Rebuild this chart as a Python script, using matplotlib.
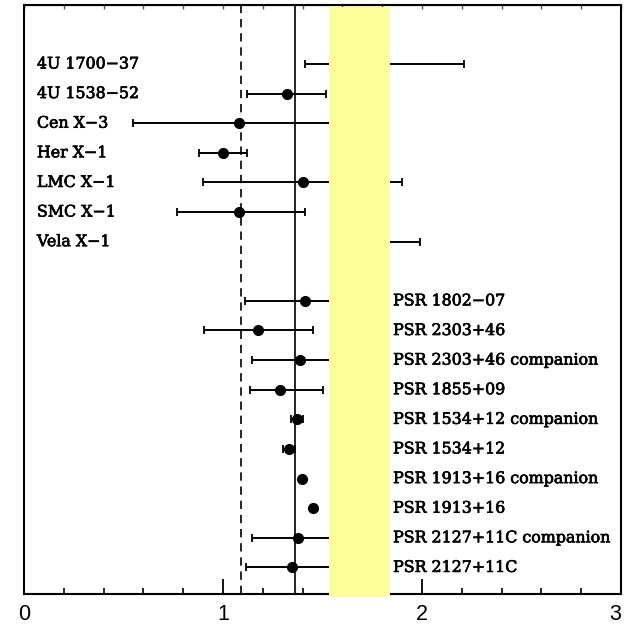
import matplotlib
matplotlib.use('Agg')
import matplotlib.pyplot as plt
from matplotlib.patches import Rectangle
import matplotlib.patheffects as pe
import numpy as np

# X-ray binaries (top block)
xrb_names = ["4U 1700\u221237", "4U 1538\u221252", "Cen X\u22123", "Her X\u22121",
             "LMC X\u22121", "SMC X\u22121", "Vela X\u22121"]
xrb_mass = [1.81, 1.32, 1.08, 1.00, 1.40, 1.08, 1.78]
xrb_err_lo = [0.40, 0.20, 0.53, 0.12, 0.50, 0.31, 0.21]
xrb_err_hi = [0.40, 0.20, 0.53, 0.12, 0.50, 0.33, 0.21]

# radio pulsars (bottom block)
psr_names = ["PSR 1802\u221207", "PSR 2303+46", "PSR 2303+46 companion", "PSR 1855+09",
             "PSR 1534+12 companion", "PSR 1534+12", "PSR 1913+16 companion",
             "PSR 1913+16", "PSR 2127+11C companion", "PSR 2127+11C"]
psr_mass = [1.41, 1.175, 1.385, 1.285, 1.37, 1.33, 1.395, 1.45, 1.375, 1.347]
psr_err_lo = [0.30, 0.27, 0.24, 0.15, 0.03, 0.03, 0.0, 0.0, 0.23, 0.23]
psr_err_hi = [0.30, 0.28, 0.24, 0.22, 0.03, 0.03, 0.0, 0.0, 0.23, 0.23]

dashed_x = 1.09
solid_x = 1.36
mask_x = (1.533, 1.839)   # yellow block covering part of the chart

fig = plt.figure(figsize=(6.24, 6.26), dpi=100)
ax = fig.add_axes([0.0385, 0.051, 0.9565, 0.941])

xrb_rows = np.arange(len(xrb_names))
psr_rows = np.arange(len(psr_names)) + len(xrb_names) + 1

ax.axvline(dashed_x, color='k', lw=1.2, ls=(0, (5, 3.5)), zorder=1)
ax.axvline(solid_x, color='k', lw=1.2, zorder=1)

eb_style = dict(fmt='o', color='k', ms=7, elinewidth=1.4, capsize=3, capthick=1.3, zorder=3)
ax.errorbar(xrb_mass, xrb_rows, xerr=[xrb_err_lo, xrb_err_hi], **eb_style)
ax.errorbar(psr_mass, psr_rows, xerr=[psr_err_lo, psr_err_hi], **eb_style)

# slightly heavier strokes, like the original typeset labels
bold_ish = [pe.withStroke(linewidth=0.5, foreground='k')]
for name, r in zip(xrb_names, xrb_rows):
    ax.text(0.065, r, name, family='DejaVu Serif', fontsize=11.4, va='center', ha='left',
            path_effects=bold_ish)
for name, r in zip(psr_names, psr_rows):
    ax.text(1.855, r, name, family='DejaVu Serif', fontsize=11.4, va='center', ha='left',
            path_effects=bold_ish)

ax.set_xlim(0, 3)
ax.set_ylim(17.9, -1.99)
ax.set_yticks([])
ax.set_xticks([0, 1, 2, 3])
ax.set_xticks(np.arange(0, 3.01, 0.2), minor=True)
ax.tick_params(axis='x', which='major', direction='in', length=11, width=1.3, pad=7,
               labelsize=15.5)
ax.tick_params(axis='x', which='minor', direction='in', length=4.5, width=1.2)
xlabels = ax.get_xticklabels()
for lbl in xlabels:
    lbl.set_family('Liberation Sans')
# the last label sits against the picture edge, as in the scan
xlabels[-1].set_horizontalalignment('right')
for sp in ax.spines.values():
    sp.set_linewidth(1.5)

top = ax.secondary_xaxis('top')
top.set_xticks(np.arange(0, 3.01, 0.2))
top.tick_params(direction='in', length=3, width=1.0, color='#555555', labeltop=False)

ax.add_patch(Rectangle((mask_x[0], -0.005), mask_x[1] - mask_x[0], 1.002,
                       transform=ax.get_xaxis_transform(), facecolor='#FFFF99',
                       edgecolor='none', zorder=20, clip_on=False))

fig.savefig('out.png', dpi=100)
